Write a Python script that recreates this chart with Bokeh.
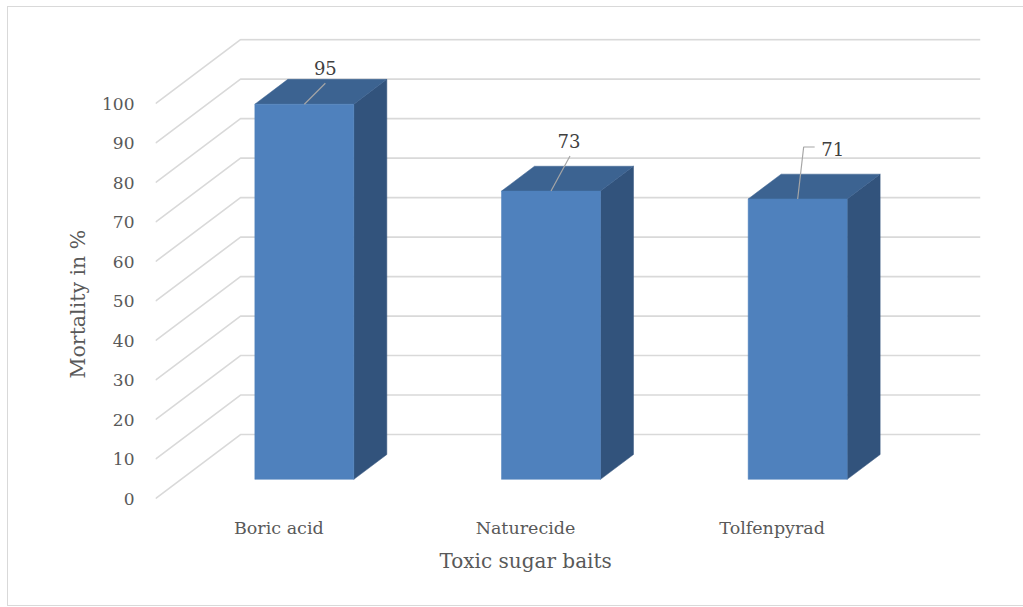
import numpy as np
from bokeh.plotting import figure
from bokeh.models import Range1d, FixedTicker, Title
from bokeh.embed import file_html
from bokeh.resources import INLINE
from bokeh.core.properties import value

# ---------------- data ----------------
categories = ["Boric acid", "Naturecide", "Tolfenpyrad"]
mortality = [95, 73, 71]
y_ticks = [0, 10, 20, 30, 40, 50, 60, 70, 80, 90, 100]
x_title = "Toxic sugar baits"
y_title = "Mortality in %"

# data-label placement (screen px offsets from the bar's top-front centre)
label_dx = [21, 18, 35]
label_dy = [-36, -50, -50]
leader_dx = [[0, 21], [0, 19], [0, 6, 17]]
leader_dy = [[0, -21], [0, -35], [0, -52, -52]]

# ---------------- geometry ----------------
FONT = "DejaVu Serif"
W, H = 1015, 598
MB_L, MB_R, MB_T, MB_B = 147, 43, 31, 103
frame_w = W - MB_L - MB_R
frame_h = H - MB_T - MB_B
n = len(categories)
PXX = 740.0 / n                    # px per category on the front floor edge
DX = 85.0 / PXX                     # depth offset (x, data units)
x_end = n + DX
y_start, y_end = -1.0, 116.5
PXY = frame_h / (y_end - y_start)   # px per value unit
DY = 64.0 / PXY                     # depth offset (y, data units)
d0, d1 = 0.30, 0.688                # bar depth position
bw = 99.0 / PXX                     # bar width


def proj(x, v, d):
    return x + d * DX, v + d * DY


p = figure(width=W, height=H, output_backend="svg", toolbar_location=None,
           x_range=Range1d(0, x_end), y_range=Range1d(y_start, y_end),
           min_border_left=MB_L, min_border_right=MB_R,
           min_border_top=MB_T, min_border_bottom=MB_B)
p.styles = {"margin-left": "8px", "margin-top": "7px",
            "outline": "1px solid #d9d9d9"}
p.outline_line_color = None
p.xgrid.visible = False
p.ygrid.visible = False
p.background_fill_color = "white"
p.border_fill_color = "white"

# gridlines: side wall + back wall
gx, gy = [], []
for t in y_ticks:
    a = proj(0, t, 0)
    b = proj(0, t, 1)
    c = proj(n, t, 1)
    gx.append([a[0], b[0], c[0]])
    gy.append([a[1], b[1], c[1]])
p.multi_line(gx, gy, line_color="#d9d9d9", line_width=1.6)

# bars
front_x, front_y, top_x, top_y, side_x, side_y = [], [], [], [], [], []
for i, v in enumerate(mortality):
    xl = i + 0.5 - bw / 2
    xr = i + 0.5 + bw / 2
    pts = [proj(xl, 0, d0), proj(xr, 0, d0), proj(xr, v, d0), proj(xl, v, d0)]
    front_x.append([q[0] for q in pts]); front_y.append([q[1] for q in pts])
    pts = [proj(xl, v, d0), proj(xr, v, d0), proj(xr, v, d1), proj(xl, v, d1)]
    top_x.append([q[0] for q in pts]); top_y.append([q[1] for q in pts])
    pts = [proj(xr, 0, d0), proj(xr, 0, d1), proj(xr, v, d1), proj(xr, v, d0)]
    side_x.append([q[0] for q in pts]); side_y.append([q[1] for q in pts])

p.patches(side_x, side_y, fill_color="#32537c", line_color="#32537c", line_width=0.5)
p.patches(top_x, top_y, fill_color="#3c6391", line_color="#3c6391", line_width=0.5)
p.patches(front_x, front_y, fill_color="#4f81bd", line_color="#4f81bd", line_width=0.5)

# data labels with leader lines
lx, ly, tx, ty = [], [], [], []
for i, v in enumerate(mortality):
    ax, ay = proj(i + 0.5, v, d0)
    lx.append([ax + dx / PXX for dx in leader_dx[i]])
    ly.append([ay - dy / PXY for dy in leader_dy[i]])
    tx.append(ax + label_dx[i] / PXX)
    ty.append(ay - label_dy[i] / PXY)
p.multi_line(lx, ly, line_color="#a6a6a6", line_width=1.2)
p.text(x=tx, y=ty, text=[str(v) for v in mortality],
       text_font=value(FONT), text_font_size="18px",
       text_align="center", text_baseline="middle", text_color="#404040")

# axes
p.yaxis.ticker = FixedTicker(ticks=y_ticks)
p.yaxis.axis_line_color = None
p.yaxis.major_tick_line_color = None
p.yaxis.minor_tick_line_color = None
p.yaxis.major_tick_out = 0
p.yaxis.major_tick_in = 0
p.yaxis.major_label_standoff = 21
p.yaxis.major_label_text_font = FONT
p.yaxis.major_label_text_font_size = "17px"
p.yaxis.major_label_text_color = "#595959"

xt = [i + 0.5 for i in range(n)]
p.xaxis.ticker = FixedTicker(ticks=xt)
p.xaxis.major_label_overrides = {t: c for t, c in zip(xt, categories)}
p.xaxis.axis_line_color = None
p.xaxis.major_tick_line_color = None
p.xaxis.minor_tick_line_color = None
p.xaxis.major_tick_out = 0
p.xaxis.major_tick_in = 0
p.xaxis.major_label_standoff = 15
p.xaxis.major_label_text_font = FONT
p.xaxis.major_label_text_font_size = "17.5px"
p.xaxis.major_label_text_color = "#595959"

# axis titles (left-aligned titles with pixel offsets from the frame edge)
p.add_layout(Title(text=x_title, align="left", offset=284, standoff=13,
                   text_font=FONT, text_font_size="20px", text_font_style="normal",
                   text_color="#595959"), "below")
p.add_layout(Title(text=y_title, align="left", offset=124, standoff=20,
                   text_font=FONT, text_font_size="20.5px", text_font_style="normal",
                   text_color="#595959"), "left")

open("out.html", "w").write(file_html(p, INLINE))
